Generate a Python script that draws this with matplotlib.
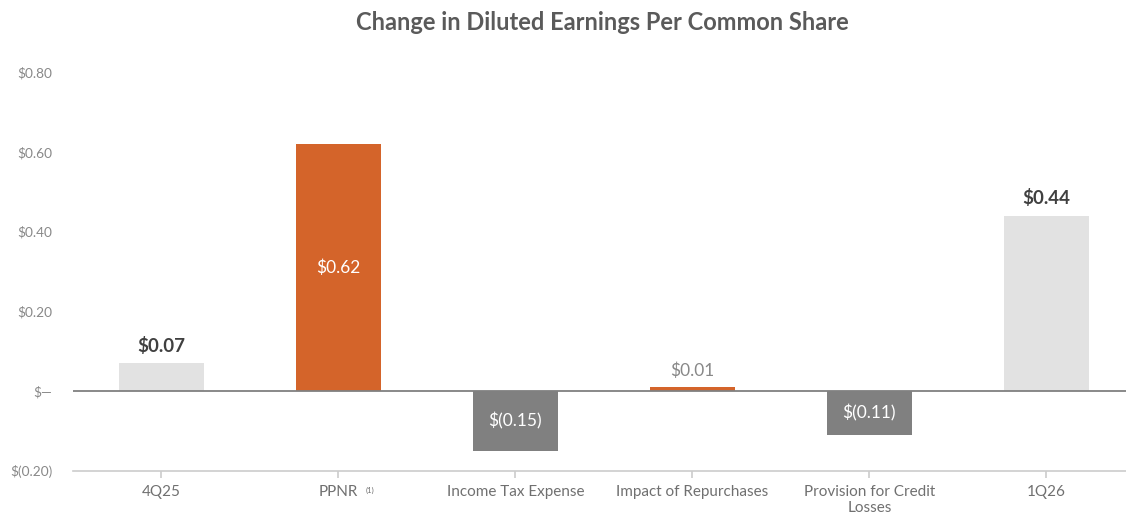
import matplotlib.pyplot as plt
import numpy as np

# Change in diluted EPS, 4Q25 -> 1Q26
categories = ['4Q25', 'PPNR', 'Income Tax Expense', 'Impact of Repurchases',
              'Provision for Credit\nLosses', '1Q26']
values = [0.07, 0.62, -0.15, 0.01, -0.11, 0.44]
value_labels = ['$0.07', '$0.62', '$(0.15)', '$0.01', '$(0.11)', '$0.44']
kinds = ['total', 'up', 'down', 'up', 'down', 'total']
yticks = [-0.2, 0.0, 0.2, 0.4, 0.6, 0.8]
ytick_labels = ['$(0.20)', '$\u2014', '$0.20', '$0.40', '$0.60', '$0.80']

colors = {'total': '#e2e2e2', 'up': '#d4642a', 'down': '#808080'}

plt.rcParams['font.family'] = ['Lato', 'DejaVu Sans']

fig = plt.figure(figsize=(11.26, 5.18), dpi=100)
ax = fig.add_axes([73 / 1126, 1 - 471 / 518, 1 - 73 / 1126, (471 - 72) / 518])

x = np.arange(len(categories))
ax.bar(x, values, width=0.48, color=[colors[k] for k in kinds], zorder=2)

ax.axhline(0, color='#808080', lw=1.3, zorder=3)

for xi, v, lab, k in zip(x, values, value_labels, kinds):
    if k == 'total':
        ax.annotate(lab, (xi, v), xytext=(0, 6), textcoords='offset points',
                    ha='center', va='bottom', fontsize=13.5, fontweight='bold',
                    color='#404040')
    elif abs(v) < 0.05:
        ax.annotate(lab, (xi, v), xytext=(0, 6), textcoords='offset points',
                    ha='center', va='bottom', fontsize=12.5, color='#888888')
    else:
        ax.text(xi, v / 2, lab, ha='center', va='center', fontsize=12.5,
                color='white', zorder=4)

ax.set_xlim(-0.5, 5.45)
ax.set_ylim(-0.2, 0.8)
ax.set_yticks(yticks)
ax.set_yticklabels(ytick_labels)
ax.set_xticks(x)
ax.set_xticklabels(categories, fontsize=11, color='#707070', linespacing=1.15)

# footnote marker next to PPNR
ax.annotate('(1)', (1, 0), xycoords=('data', 'axes fraction'), xytext=(23, -14),
            textcoords='offset points', ha='center', va='center', fontsize=5.5,
            color='#707070')

for s in ['top', 'right', 'left']:
    ax.spines[s].set_visible(False)
ax.spines['bottom'].set_color('#cccccc')
ax.spines['bottom'].set_linewidth(1.2)
ax.tick_params(axis='y', length=0, labelsize=9.8, labelcolor='#888888', pad=15)
ax.tick_params(axis='x', length=5, color='#cccccc', width=1.2, pad=5)

fig.text(602 / 1126, 1 - 23 / 518, 'Change in Diluted Earnings Per Common Share',
         ha='center', va='center', fontsize=17, fontweight='bold', color='#5a5a5a')

plt.savefig('out.png', dpi=100)
